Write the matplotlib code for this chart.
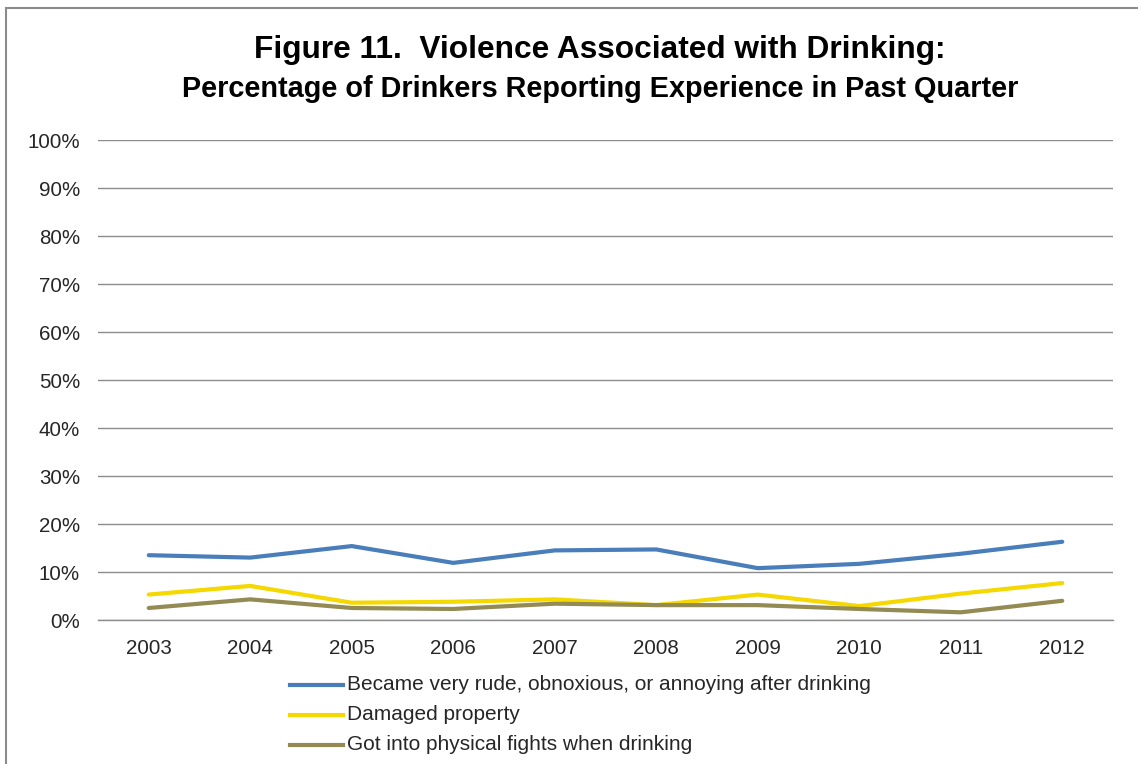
import matplotlib
matplotlib.use("Agg")
import matplotlib.pyplot as plt
from matplotlib.patches import Rectangle
from matplotlib.ticker import FuncFormatter

years = ["2003", "2004", "2005", "2006", "2007", "2008", "2009", "2010", "2011", "2012"]
rude = [13.5, 13.0, 15.4, 11.9, 14.5, 14.7, 10.8, 11.7, 13.8, 16.3]
damaged = [5.3, 7.1, 3.6, 3.8, 4.3, 3.1, 5.3, 2.9, 5.5, 7.7]
fights = [2.5, 4.3, 2.5, 2.3, 3.4, 3.1, 3.1, 2.3, 1.6, 4.0]
labels = ["Became very rude, obnoxious, or annoying after drinking",
          "Damaged property",
          "Got into physical fights when drinking"]
colors = ["#4A7EBB", "#F5D800", "#948A54"]

plt.rcParams['font.family'] = ['Liberation Sans', 'DejaVu Sans']

W, H = 1138, 764
fig = plt.figure(figsize=(W / 100, H / 100), dpi=100)

# outer border
fig.patches.append(Rectangle((6 / W, -0.1), 1.2, (H - 8) / H + 0.1, transform=fig.transFigure,
                             fill=False, edgecolor="#8c8c8c", linewidth=1.5))

left, right, top, bottom = 98, 1113, 140, 620
ax = fig.add_axes([left / W, 1 - bottom / H, (right - left) / W, (bottom - top) / H])

x = list(range(len(years)))
for vals, c in zip([rude, damaged, fights], colors):
    ax.plot(x, vals, color=c, linewidth=3.0, solid_capstyle='round', solid_joinstyle='round')

ax.set_xlim(-0.5, len(years) - 0.5)
ax.set_ylim(0, 100)
ax.set_yticks(range(0, 101, 10))
ax.yaxis.set_major_formatter(FuncFormatter(lambda v, p: f"{int(v)}%"))
ax.set_xticks(x)
ax.set_xticklabels(years)
ax.grid(axis='y', color='#8c8c8c', linewidth=1.0)
ax.set_axisbelow(True)
for s in ['top', 'right', 'left']:
    ax.spines[s].set_visible(False)
ax.spines['bottom'].set_color('#8c8c8c')
ax.spines['bottom'].set_linewidth(1.0)
ax.tick_params(axis='both', length=0, labelsize=14.8, colors='#262626')
ax.tick_params(axis='y', pad=13)
ax.tick_params(axis='x', pad=14)

fig.text(600 / W, 1 - 50 / H, "Figure 11.  Violence Associated with Drinking:", ha='center', va='center',
         fontsize=22.8, fontweight='bold', color='black')
fig.text(600 / W, 1 - 89 / H, "Percentage of Drinkers Reporting Experience in Past Quarter", ha='center',
         va='center', fontsize=20.8, fontweight='bold', color='black')

# legend
for i, (lab, c) in enumerate(zip(labels, colors)):
    yy = 1 - (685 + i * 30) / H
    fig.add_artist(plt.Line2D([290 / W, 343 / W], [yy, yy], transform=fig.transFigure,
                              color=c, linewidth=3.0))
    fig.text(347 / W, yy, lab, ha='left', va='center', fontsize=15, color='#262626')

fig.savefig("out.png", dpi=100)
